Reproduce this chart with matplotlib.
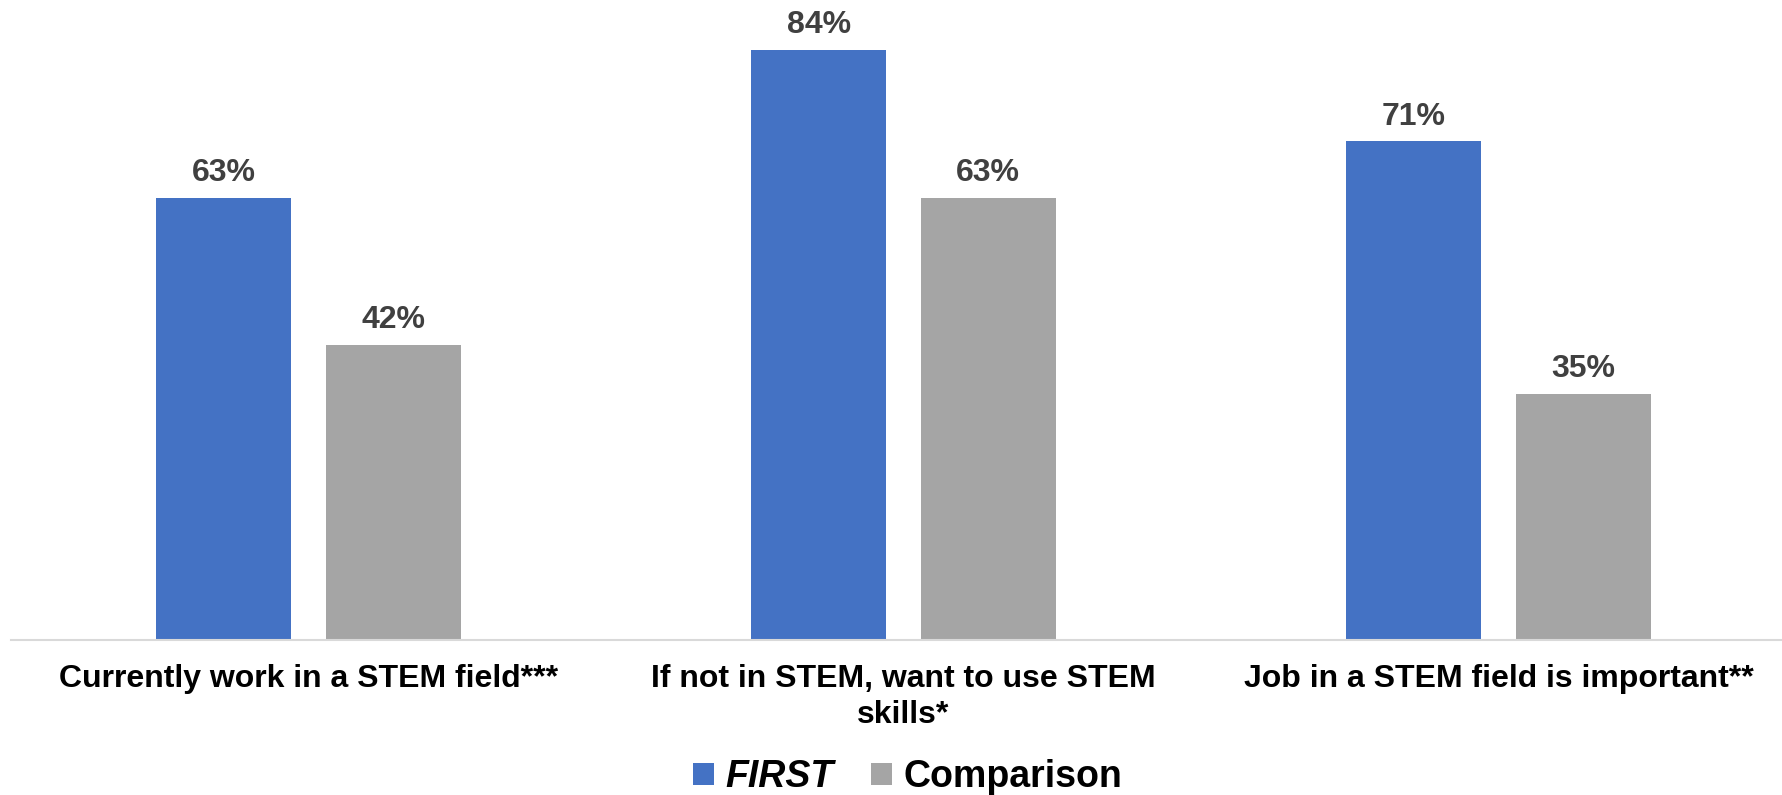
import matplotlib

matplotlib.use("Agg")
import matplotlib.pyplot as plt
from matplotlib.patches import Patch
import numpy as np

plt.rcParams["font.family"] = ["Liberation Sans", "DejaVu Sans"]

CATEGORIES = [
    "Currently work in a STEM field***",
    "If not in STEM, want to use STEM\nskills*",
    "Job in a STEM field is important**",
]
SERIES = ["FIRST", "Comparison"]
FIRST_VALS = [63, 84, 71]
COMP_VALS = [42, 63, 35]
COLORS = {"FIRST": "#4472C4", "Comparison": "#A5A5A5"}


def main():
    fig = plt.figure(figsize=(17.83, 7.95), dpi=100)
    fig.patch.set_facecolor("white")
    ax = fig.add_axes([0.0062, 0.195, 1.0011, 0.795])

    x = np.arange(len(CATEGORIES))
    w = 0.227
    off = 0.1425
    b1 = ax.bar(x - off, FIRST_VALS, width=w, color=COLORS["FIRST"], linewidth=0)
    b2 = ax.bar(x + off, COMP_VALS, width=w, color=COLORS["Comparison"], linewidth=0)

    for bars in (b1, b2):
        ax.bar_label(
            bars,
            labels=[f"{v:.0f}%" for v in bars.datavalues],
            padding=7,
            fontsize=23,
            fontweight="bold",
            color="#404040",
        )

    ax.set_xlim(-0.5, 2.5)
    ax.set_ylim(0, 90)
    ax.set_yticks([])
    ax.set_xticks(x)
    ax.set_xticklabels(CATEGORIES, fontsize=23, fontweight="bold", linespacing=1.3)
    ax.tick_params(axis="x", length=0, pad=17)
    for s in ("top", "right", "left"):
        ax.spines[s].set_visible(False)
    ax.spines["bottom"].set_color("#D9D9D9")
    ax.spines["bottom"].set_linewidth(1.5)

    handles = [Patch(facecolor=COLORS[s], edgecolor="none") for s in SERIES]
    leg = fig.legend(
        handles,
        SERIES,
        loc="lower center",
        bbox_to_anchor=(0.509, -0.024),
        ncol=2,
        frameon=False,
        prop={"size": 27, "weight": "bold"},
        handlelength=0.56,
        handleheight=0.56,
        handletextpad=0.3,
        columnspacing=1.0,
        borderpad=0,
    )
    leg.get_texts()[0].set_style("italic")

    fig.savefig("out.png", dpi=100, facecolor="white")


if __name__ == "__main__":
    main()
